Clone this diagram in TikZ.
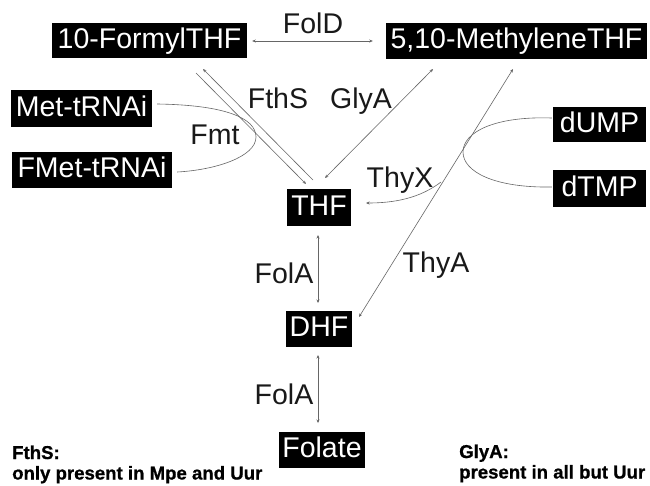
\documentclass[tikz,border=0pt]{standalone}
\usepackage{fontspec}
\setmainfont{Liberation Sans}
\newfontfamily\heavyfont[FakeBold=0.8]{Liberation Sans Bold}
\usetikzlibrary{arrows.meta,calc}
\begin{document}
\begin{tikzpicture}[x=1pt,y=-1pt,
  box/.style={fill=black,text=white,inner sep=0pt,font=\fontsize{28.5}{28.5}\selectfont,
    text height=20pt,text depth=5pt,align=center},
  lbl/.style={inner sep=0pt,text=black!90,font=\fontsize{28.5}{28.5}\selectfont,text height=20pt,text depth=0pt},
  note/.style={inner sep=0pt,anchor=base west,font=\heavyfont\fontsize{18.6}{18.6}\selectfont},
  conn/.style={draw=black!60,line width=0.6pt},
  tip/.style={-{Stealth[length=3.5pt,width=3pt]}},
  tips/.style={{Stealth[length=3.5pt,width=3pt]}-{Stealth[length=3.5pt,width=3pt]}}
]
\clip (0,0) rectangle (650,485);
\useasboundingbox (0,0) rectangle (650,485);
\fill[white] (0,0) rectangle (650,485);

% boxes
\node[box,minimum width=195pt,minimum height=35pt] (f) at (149.5,40.5) {10-FormylTHF};
\node[box,minimum width=261pt,minimum height=36pt] (m) at (516.5,41) {5,10-MethyleneTHF};
\node[box,minimum width=141pt,minimum height=37pt] (met) at (81.5,108.5) {Met-tRNAi};
\node[box,minimum width=160pt,minimum height=36pt] (fmet) at (92,170) {FMet-tRNAi};
\node[box,minimum width=93pt,minimum height=35pt] (u) at (599.5,124.5) {dUMP};
\node[box,minimum width=93pt,minimum height=37pt] (t) at (599.5,188.5) {dTMP};
\node[box,minimum width=64pt,minimum height=37pt] (thf) at (319,207.5) {THF};
\node[box,minimum width=66pt,minimum height=36pt] (dhf) at (319,329) {DHF};
\node[box,minimum width=86pt,minimum height=36pt] (fol) at (322,450) {Folate};

% labels
\node[lbl] (lfold) at (313,23) {FolD};
\node[lbl] (lfths) at (278,98.5) {FthS};
\node[lbl] (lglya) at (361,98) {GlyA};
\node[lbl] (lfmt) at (215,134) {Fmt};
\node[lbl] (lthyx) at (400,177) {ThyX};
\node[lbl] (lthya) at (436,262.5) {ThyA};
\node[lbl] (lfola1) at (284,273) {FolA};
\node[lbl] (lfola2) at (284,394) {FolA};

% notes
\node[note] (n1) at (12,459) {FthS:};
\node[note] (n2) at (12,479.5) {only present in Mpe and Uur};
\node[note] (n3) at (459,458) {GlyA:};
\node[note] (n4) at (459,478.5) {present in all but Uur};

% connectors
\draw[conn,tips] ($(f.east)+(5,0.5)$) -- ($(m.west)+(-13,0)$);
\draw[conn,tip] ($(f)+(46.5,32.5)$) -- ($(thf)+(-13,-23.5)$);
\draw[conn,tip] ($(thf)+(-6,-27.5)$) -- ($(f)+(53.5,28.5)$);
\draw[conn,tips] ($(m)+(-83.5,28)$) -- ($(thf)+(6,-29.5)$);
\draw[conn,tips] ($(m)+(-3.5,28)$) -- ($(dhf)+(40,-12)$);
\draw[conn,tips] ($(thf)+(-1,27.5)$) -- ($(dhf)+(-1,-26)$);
\draw[conn,tips] ($(dhf)+(-1,26)$) -- ($(fol)+(-4,-27)$);
\coordinate (thyxs) at (441,182);
\draw[conn,tip] (thyxs) .. controls (420,198) and (395,203) .. ($(thf)+(47,-4.5)$);
\draw[conn] ($(u.west)+(-1,-6.5)$) .. controls (495,116) and (463,132) .. (463,152)
  .. controls (463,172) and (495,188) .. ($(t.west)+(-1,-1.5)$);
\draw[conn] ($(met.east)+(5,-4.5)$) .. controls (225,105) and (256,118) .. (256,137)
  .. controls (256,157) and (215,170) .. ($(fmet.east)+(5,2)$);
\end{tikzpicture}
\end{document}
